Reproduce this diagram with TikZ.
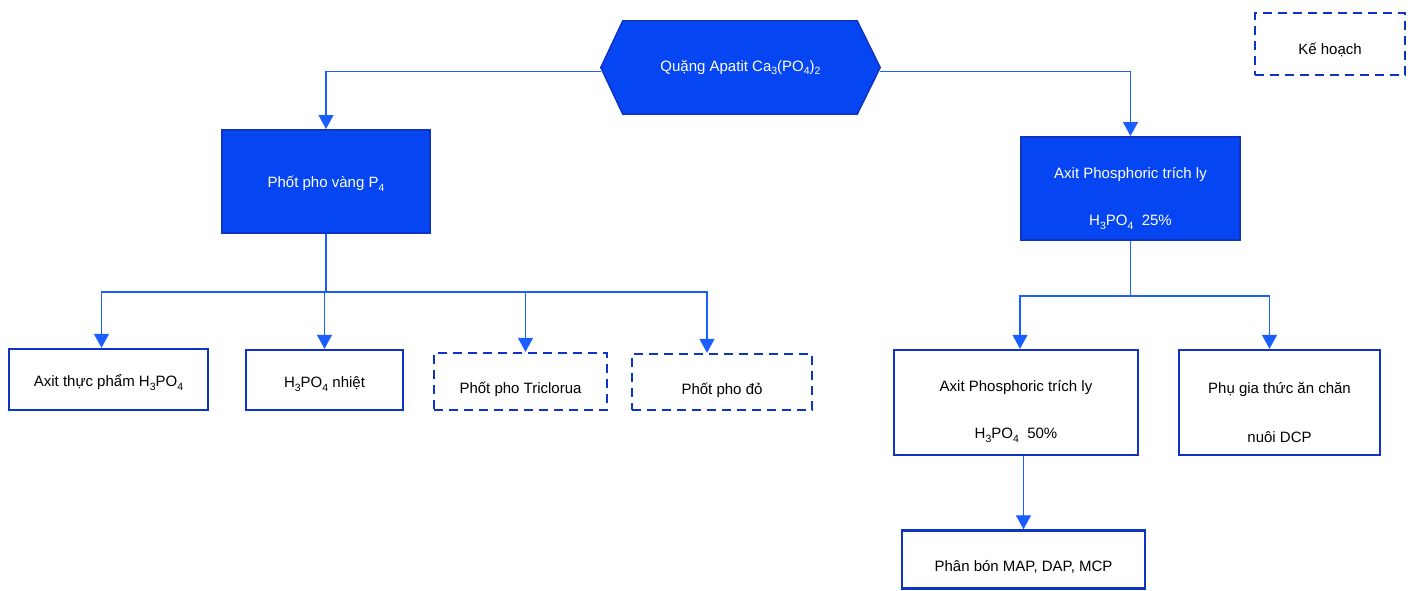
\documentclass[tikz,border=0pt]{standalone}
\usepackage{fontspec}
\setmainfont{Liberation Sans}
\usetikzlibrary{arrows.meta}
\definecolor{fillb}{RGB}{6,70,242}
\definecolor{edgeb}{RGB}{14,52,196}
\definecolor{lineb}{RGB}{26,94,255}
\newcommand{\sbs}[1]{\raisebox{-0.45ex}{\fontsize{10.5}{10.5}\selectfont #1}}
\tikzset{
  lbl/.style={font=\fontsize{15}{18}\selectfont, inner sep=0pt, align=center},
  solidbox/.style={draw=edgeb, line width=2.4pt, fill=white, inner sep=0pt},
  filledbox/.style={draw=edgeb, line width=2pt, fill=fillb, inner sep=0pt},
  planbox/.style={draw=edgeb, line width=2.4pt, dash pattern=on 9pt off 6pt, fill=white, inner sep=0pt},
  conn/.style={draw=lineb, line width=1.3pt, -{Triangle[width=15pt,length=14pt]}},
  wire/.style={draw=lineb, line width=1.3pt}
}
\begin{document}
\begin{tikzpicture}[x=1pt,y=-1pt]
\useasboundingbox (0,0) rectangle (1413,590);

% hexagon (ore)
\node[minimum width=279pt, minimum height=93pt, inner sep=0pt] (ore) at (740.5,67.5) {};
\draw[edgeb, fill=fillb, line width=1.5pt] (ore.west) -- ([xshift=22pt]ore.north west) -- ([xshift=-23pt]ore.north east) -- (ore.east) -- ([xshift=-23pt]ore.south east) -- ([xshift=22pt]ore.south west) -- cycle;
\node[lbl, text=white] (oretext) at (ore) {Quặng Apatit Ca\sbs{3}(PO\sbs{4})\sbs{2}};

% plan legend
\node[planbox, minimum width=150pt, minimum height=62pt,
  label={[lbl,yshift=-6pt]center:Kế hoạch}] (plan) at (1330,44) {};

% level 1
\node[filledbox, minimum width=208pt, minimum height=103pt,
  label={[lbl,text=white,yshift=-2pt]center:Phốt pho vàng P\sbs{4}}] (yellow) at (326,181.5) {};
\node[filledbox, minimum width=219pt, minimum height=103pt,
  label={[lbl,text=white,yshift=-10pt]center:{Axit Phosphoric trích ly\\[29pt]H\sbs{3}PO\sbs{4}\ \ 25\%}}] (ext25) at (1130.5,188.5) {};

% level 2 left
\node[solidbox, minimum width=199pt, minimum height=61pt,
  label={[lbl,yshift=-3pt]center:Axit thực phẩm H\sbs{3}PO\sbs{4}}] (food) at (108.5,379.5) {};
\node[solidbox, minimum width=157pt, minimum height=60pt,
  label={[lbl,yshift=-4pt]center:H\sbs{3}PO\sbs{4} nhiệt}] (thermal) at (324.5,380) {};
\node[planbox, minimum width=173pt, minimum height=57pt,
  label={[lbl,yshift=-8pt]center:Phốt pho Triclorua}] (tricl) at (520.5,381.5) {};
\node[planbox, minimum width=180pt, minimum height=56pt,
  label={[lbl,yshift=-8pt]center:Phốt pho đỏ}] (red) at (722,382) {};

% level 2 right
\node[solidbox, minimum width=244pt, minimum height=105pt,
  label={[lbl,yshift=-9pt]center:{Axit Phosphoric trích ly\\[29pt]H\sbs{3}PO\sbs{4}\ \ 50\%}}] (ext50) at (1016,402.5) {};
\node[solidbox, minimum width=201pt, minimum height=105pt,
  label={[lbl,yshift=-10pt]center:{Phụ gia thức ăn chăn\\[31pt]nuôi DCP}}] (feed) at (1279.5,402.5) {};

% level 3
\node[solidbox, minimum width=243pt, minimum height=58pt,
  label={[lbl,yshift=-7pt]center:{Phân bón MAP, DAP, MCP}}] (fert) at (1023.5,559.5) {};

% connectors
\draw[conn] ([yshift=-4pt]ore.west) -| (yellow.north);
\draw[conn] ([yshift=-4pt]ore.east) -| (ext25.north);

\draw[wire] (yellow.south) -- ++(0,58) coordinate (ybus);
\draw[conn] (ybus) -| ([xshift=-7pt]food.north);
\draw[conn] (ybus) -| (thermal.north);
\draw[conn] (ybus) -| ([xshift=5pt]tricl.north);
\draw[conn] (ybus) -| ([xshift=-15pt]red.north);

\draw[wire] (ext25.south) -- ++(0,55) coordinate (rbus);
\draw[conn] (rbus) -| ([xshift=4pt]ext50.north);
\draw[conn] (rbus) -| ([xshift=-10pt]feed.north);

\draw[conn] (fert.north |- ext50.south) -- (fert.north);
\end{tikzpicture}
\end{document}
